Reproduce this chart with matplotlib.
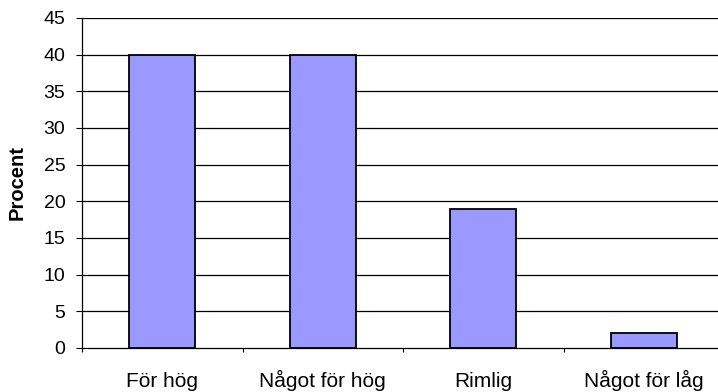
import matplotlib
matplotlib.use("Agg")
import matplotlib.pyplot as plt

# survey answers, share of respondents in percent
kategorier = ["För hög", "Något för hög", "Rimlig", "Något för låg"]
procent = [40, 40, 19, 2]
yticks = [0, 5, 10, 15, 20, 25, 30, 35, 40, 45]

plt.rcParams["font.family"] = ["Liberation Sans", "DejaVu Sans"]

fig = plt.figure(figsize=(7.18, 3.92), dpi=100)
# plot area runs a little past the right edge of the image
ax = fig.add_axes([82 / 718, 1 - 348 / 392, 642 / 718, 330 / 392])

x = list(range(len(kategorier)))
ax.bar(x, procent, width=0.41, color="#9999FF", edgecolor="black",
       linewidth=1.3, zorder=3)

ax.set_xlim(-0.5, len(kategorier) - 0.5)
ax.set_ylim(0, 45)
ax.set_yticks(yticks)
ax.tick_params(axis="y", labelsize=14, length=4, width=0.8, pad=8)
ax.set_xticks(x)
ax.set_xticklabels(kategorier, fontsize=15)
ax.tick_params(axis="x", length=0, pad=28)
for lbl in ax.get_xticklabels():
    lbl.set_va("baseline")
# category separators on the x axis
ax.set_xticks([i + 0.5 for i in range(-1, len(kategorier))], minor=True)
ax.tick_params(axis="x", which="minor", length=3, width=0.8)

for y in yticks[1:]:
    ax.axhline(y, color="black", linewidth=0.9, zorder=1)

for side in ("top", "right"):
    ax.spines[side].set_visible(False)
for side in ("left", "bottom"):
    ax.spines[side].set_linewidth(0.9)

ax.set_ylabel("Procent", fontsize=14.5, fontweight="bold")
ax.yaxis.set_label_coords(-0.101, 0.5)
ax.yaxis.label.set_va("center")

fig.savefig("out.png", dpi=100)
